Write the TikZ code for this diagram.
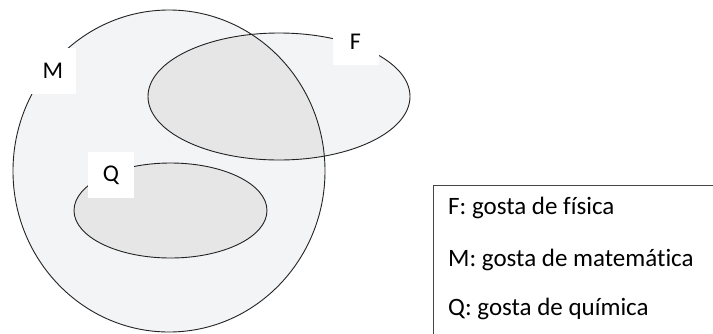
\documentclass[tikz,border=0pt]{standalone}
\usepackage{fontspec}
\setmainfont{Carlito}[RawFeature=-liga]
\definecolor{setlight}{HTML}{F3F4F6}
\definecolor{setdark}{HTML}{E6E6E6}
\definecolor{setline}{HTML}{222222}
\definecolor{boxline}{HTML}{444444}
\begin{document}
\begin{tikzpicture}[x=1pt,y=-1pt,
  setedge/.style={draw=setline,line width=0.9pt},
  labelbox/.style={fill=white,draw=none,minimum width=46pt,minimum height=46pt,inner sep=0pt,font=\fontsize{24}{28}\selectfont},
  legendtext/.style={anchor=west,inner sep=0pt,font=\fontsize{25}{30}\selectfont}]
\useasboundingbox (0,0) rectangle (713,333);
\fill[white] (0,0) rectangle (713,333);
% fills
\fill[setlight] (169,171) ellipse [x radius=156, y radius=161];
\fill[setlight] (279,96.5) ellipse [x radius=131, y radius=63.5];
\begin{scope}
  \clip (169,171) ellipse [x radius=156, y radius=161];
  \fill[setdark] (279,96.5) ellipse [x radius=131, y radius=63.5];
\end{scope}
\fill[setdark] (170.5,210.5) ellipse [x radius=96.5, y radius=47.5];
% outlines
\draw[setedge] (169,171) ellipse [x radius=156, y radius=161];
\draw[setedge] (279,96.5) ellipse [x radius=131, y radius=63.5];
\draw[setedge] (170.5,210.5) ellipse [x radius=96.5, y radius=47.5];
% labels
\node[labelbox] (labM) at (53,71) {M};
\node[labelbox] (labF) at (355.5,41.5) {F};
\node[labelbox] (labQ) at (111,175) {Q};
% legend
\draw[boxline,line width=1pt] (713,185) -- (433.5,185) -- (433.5,334);
\node[legendtext] (legF) at (448,208) {F: gosta de física};
\node[legendtext] (legM) at (448,259.5) {M: gosta de matemática};
\node[legendtext] (legQ) at (448,309) {Q: gosta de química};
\end{tikzpicture}
\end{document}
